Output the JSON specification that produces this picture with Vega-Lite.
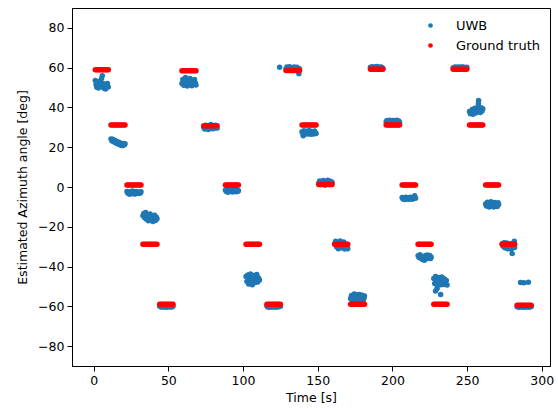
{
  "$schema": "https://vega.github.io/schema/vega-lite/v6.json",
  "autosize": {"type": "none"},
  "width": 478,
  "height": 358,
  "padding": {"left": 72, "top": 8, "right": 8, "bottom": 43},
  "background": "white",
  "config": {
    "font": "DejaVu Sans",
    "view": {"stroke": "#000000", "strokeWidth": 1},
    "axis": {
      "grid": false,
      "domainColor": "#000000",
      "tickColor": "#000000",
      "tickSize": 5,
      "labelColor": "#000000",
      "titleColor": "#000000",
      "labelFontSize": 12.5,
      "titleFontSize": 12.5,
      "titleFontWeight": "normal",
      "labelFont": "DejaVu Sans",
      "titleFont": "DejaVu Sans"
    }
  },
  "datasets": {
    "uwb": [
      {"t":1.1,"v":53.5},{"t":1.6,"v":51.5},{"t":2.1,"v":50.2},{"t":2.6,"v":52.8},{"t":3.1,"v":49.8},{"t":3.6,"v":51.2},{"t":4.2,"v":53.2},{"t":4.7,"v":50.5},{"t":5.3,"v":54.5},{"t":5.8,"v":56},{"t":6.3,"v":52},{"t":6.8,"v":49.6},{"t":7.4,"v":51},{"t":8.0,"v":49.3},{"t":8.6,"v":50.6},{"t":9.2,"v":52},{"t":9.8,"v":50.3},
      {"t":11.6,"v":24.2},{"t":12.2,"v":23.2},{"t":12.8,"v":24},{"t":13.4,"v":22.8},{"t":14.0,"v":23.5},{"t":14.6,"v":22.3},{"t":15.2,"v":23},{"t":15.8,"v":21.8},{"t":16.4,"v":22.6},{"t":17.0,"v":21.5},{"t":17.6,"v":22.2},{"t":18.2,"v":21},{"t":18.8,"v":21.8},{"t":19.4,"v":20.8},{"t":20.0,"v":21.9},{"t":20.6,"v":21.2},{"t":21.0,"v":21.7},
      {"t":22.3,"v":-2.2},{"t":22.9,"v":-3.2},{"t":23.5,"v":-2.6},{"t":24.1,"v":-3.6},{"t":24.7,"v":-2.4},{"t":25.3,"v":-3.1},{"t":25.9,"v":-2.0},{"t":26.5,"v":-3.4},{"t":27.1,"v":-2.7},{"t":27.7,"v":-3.5},{"t":28.3,"v":-2.3},{"t":28.9,"v":-3.0},{"t":29.5,"v":-2.5},{"t":30.1,"v":-3.3},{"t":30.7,"v":-2.6},{"t":31.3,"v":-3.0},{"t":31.7,"v":-2.4},
      {"t":33.0,"v":-14.5},{"t":33.6,"v":-13.3},{"t":34.2,"v":-15.5},{"t":34.8,"v":-12.8},{"t":35.4,"v":-16.2},{"t":36.0,"v":-14},{"t":36.6,"v":-17},{"t":37.2,"v":-15},{"t":37.8,"v":-13.6},{"t":38.4,"v":-16.5},{"t":39.0,"v":-14.8},{"t":39.6,"v":-17.3},{"t":40.2,"v":-15.6},{"t":40.8,"v":-14.2},{"t":41.4,"v":-16.8},{"t":42.0,"v":-15.2},{"t":42.4,"v":-16},
      {"t":44.2,"v":-60},{"t":44.8,"v":-59.6},{"t":45.4,"v":-60.4},{"t":46.0,"v":-59.8},{"t":46.6,"v":-60.2},{"t":47.2,"v":-59.5},{"t":47.8,"v":-60.3},{"t":48.4,"v":-59.9},{"t":49.0,"v":-60.5},{"t":49.6,"v":-59.7},{"t":50.2,"v":-60.1},{"t":50.8,"v":-59.6},{"t":51.4,"v":-60.4},{"t":52.0,"v":-59.8},{"t":52.6,"v":-60.2},{"t":53.1,"v":-59.9},
      {"t":59.1,"v":52},{"t":59.7,"v":54},{"t":60.3,"v":51.2},{"t":60.9,"v":53.2},{"t":61.5,"v":55},{"t":62.1,"v":52.5},{"t":62.7,"v":50.8},{"t":63.3,"v":53.8},{"t":63.9,"v":51.5},{"t":64.5,"v":54.5},{"t":65.1,"v":52.2},{"t":65.7,"v":50.9},{"t":66.3,"v":53.5},{"t":66.9,"v":51.8},{"t":67.5,"v":54},{"t":68.0,"v":52.4},{"t":68.5,"v":51.3},
      {"t":73.7,"v":30},{"t":74.3,"v":29.2},{"t":74.9,"v":31},{"t":75.5,"v":29.8},{"t":76.1,"v":30.6},{"t":76.7,"v":28.9},{"t":77.3,"v":30.3},{"t":77.9,"v":29.5},{"t":78.5,"v":31.4},{"t":79.1,"v":30},{"t":79.7,"v":29.3},{"t":80.3,"v":30.8},{"t":80.9,"v":29.7},{"t":81.5,"v":31},{"t":82.1,"v":30.2},{"t":82.6,"v":29.6},
      {"t":88.2,"v":-1.5},{"t":88.8,"v":-2.3},{"t":89.4,"v":-1.2},{"t":90.0,"v":-2.6},{"t":90.6,"v":-1.8},{"t":91.2,"v":-1},{"t":91.8,"v":-2.2},{"t":92.4,"v":-1.6},{"t":93.0,"v":-2.5},{"t":93.6,"v":-1.3},{"t":94.2,"v":-2},{"t":94.8,"v":-1.7},{"t":95.4,"v":-2.4},{"t":96.0,"v":-1.4},{"t":96.6,"v":-2.1},{"t":96.9,"v":-1.8},
      {"t":102.0,"v":-45},{"t":102.6,"v":-47.5},{"t":103.2,"v":-44.2},{"t":103.8,"v":-48.8},{"t":104.4,"v":-46},{"t":105.0,"v":-43.8},{"t":105.6,"v":-47},{"t":106.2,"v":-49.2},{"t":106.8,"v":-45.5},{"t":107.4,"v":-44.5},{"t":108.0,"v":-48},{"t":108.6,"v":-46.5},{"t":109.2,"v":-44},{"t":109.8,"v":-47.8},{"t":110.4,"v":-45.8},{"t":111.0,"v":-46.8},
      {"t":116.0,"v":-59.8},{"t":116.6,"v":-60.3},{"t":117.2,"v":-59.6},{"t":117.8,"v":-60.5},{"t":118.4,"v":-60},{"t":119.0,"v":-59.7},{"t":119.6,"v":-60.4},{"t":120.2,"v":-59.9},{"t":120.8,"v":-60.2},{"t":121.4,"v":-59.6},{"t":122.0,"v":-60.4},{"t":122.6,"v":-59.8},{"t":123.2,"v":-60.3},{"t":123.8,"v":-59.7},{"t":124.4,"v":-60.1},{"t":125.0,"v":-59.9},
      {"t":124.5,"v":60.2},{"t":128.8,"v":59.5},{"t":129.4,"v":60.3},{"t":130.0,"v":58.8},{"t":130.6,"v":59.9},{"t":131.2,"v":60.5},{"t":131.8,"v":59.2},{"t":132.4,"v":60},{"t":133.0,"v":58.6},{"t":133.6,"v":59.7},{"t":134.2,"v":60.4},{"t":134.8,"v":59},{"t":135.4,"v":59.8},{"t":136.0,"v":60.2},{"t":136.6,"v":58.9},{"t":137.2,"v":59.6},{"t":137.4,"v":57},{"t":137.8,"v":59.3},
      {"t":139.5,"v":27.8},{"t":140.1,"v":26.8},{"t":140.3,"v":25.8},{"t":140.7,"v":28.3},{"t":141.3,"v":27.2},{"t":141.9,"v":26.6},{"t":142.5,"v":28},{"t":143.1,"v":27.4},{"t":143.7,"v":26.7},{"t":144.3,"v":28.4},{"t":144.9,"v":27},{"t":145.5,"v":26.5},{"t":146.1,"v":27.9},{"t":146.7,"v":27.3},{"t":147.3,"v":26.6},{"t":147.9,"v":28.1},{"t":148.5,"v":27.1},{"t":148.9,"v":26.9},
      {"t":150.7,"v":2},{"t":151.3,"v":3},{"t":151.9,"v":1.2},{"t":152.5,"v":2.6},{"t":153.1,"v":1.5},{"t":153.7,"v":3.3},{"t":154.3,"v":2.2},{"t":154.9,"v":1},{"t":155.5,"v":2.8},{"t":156.1,"v":1.6},{"t":156.7,"v":3.4},{"t":157.3,"v":2.1},{"t":157.9,"v":1.3},{"t":158.5,"v":2.9},{"t":159.1,"v":1.8},{"t":159.6,"v":2.4},
      {"t":161.4,"v":-28.5},{"t":162.0,"v":-27.3},{"t":162.6,"v":-30},{"t":163.2,"v":-28},{"t":163.8,"v":-31},{"t":164.4,"v":-29},{"t":165.0,"v":-27.2},{"t":165.6,"v":-30.5},{"t":166.2,"v":-28.6},{"t":166.8,"v":-29.8},{"t":167.4,"v":-27.6},{"t":168.0,"v":-31.2},{"t":168.6,"v":-28.8},{"t":169.2,"v":-30.2},{"t":169.8,"v":-29.2},{"t":170.1,"v":-31},
      {"t":172.0,"v":-56},{"t":172.6,"v":-54.5},{"t":173.2,"v":-57.5},{"t":173.8,"v":-55.2},{"t":174.4,"v":-53.8},{"t":175.0,"v":-56.8},{"t":175.6,"v":-55},{"t":176.2,"v":-54.2},{"t":176.8,"v":-57},{"t":177.4,"v":-55.6},{"t":178.0,"v":-54},{"t":178.6,"v":-56.4},{"t":179.2,"v":-55.1},{"t":179.8,"v":-54.4},{"t":180.4,"v":-57.2},{"t":181.0,"v":-55.8},{"t":181.3,"v":-54.8},
      {"t":185.3,"v":60.2},{"t":185.9,"v":59.7},{"t":186.5,"v":60.5},{"t":187.1,"v":60},{"t":187.7,"v":59.6},{"t":188.3,"v":60.4},{"t":188.9,"v":59.9},{"t":189.5,"v":60.6},{"t":190.1,"v":60.1},{"t":190.7,"v":59.7},{"t":191.3,"v":60.4},{"t":191.9,"v":59.8},{"t":192.5,"v":60.3},{"t":193.1,"v":60},{"t":193.6,"v":59.7},
      {"t":195.8,"v":32.8},{"t":196.4,"v":33.4},{"t":197.0,"v":32.4},{"t":197.6,"v":33.1},{"t":198.2,"v":33.6},{"t":198.8,"v":32.6},{"t":199.4,"v":33.2},{"t":200.0,"v":32.3},{"t":200.6,"v":33.5},{"t":201.2,"v":32.9},{"t":201.8,"v":33.3},{"t":202.4,"v":32.5},{"t":203.0,"v":33.6},{"t":203.6,"v":32.8},{"t":204.2,"v":33.2},{"t":204.8,"v":32.6},
      {"t":206.5,"v":-5.3},{"t":207.1,"v":-6},{"t":207.7,"v":-5.5},{"t":208.3,"v":-6.3},{"t":208.9,"v":-5.1},{"t":209.5,"v":-5.9},{"t":210.1,"v":-5.4},{"t":210.7,"v":-6.2},{"t":211.3,"v":-5.6},{"t":211.9,"v":-5.2},{"t":212.5,"v":-6.1},{"t":213.1,"v":-5.5},{"t":213.7,"v":-6},{"t":214.3,"v":-5.3},{"t":214.9,"v":-4.4},{"t":215.5,"v":-5.6},
      {"t":217.2,"v":-34.5},{"t":217.8,"v":-35.5},{"t":218.4,"v":-34},{"t":219.0,"v":-35.8},{"t":219.6,"v":-34.8},{"t":220.2,"v":-36.5},{"t":220.8,"v":-35.2},{"t":221.4,"v":-36.8},{"t":222.0,"v":-34.6},{"t":222.6,"v":-35.6},{"t":223.2,"v":-34.2},{"t":223.8,"v":-36},{"t":224.4,"v":-35},{"t":225.0,"v":-34.4},{"t":225.6,"v":-35.9},{"t":225.9,"v":-35.2},
      {"t":227.7,"v":-46},{"t":228.3,"v":-48.5},{"t":228.9,"v":-52.3},{"t":228.9,"v":-45},{"t":229.5,"v":-47.2},{"t":229.9,"v":-51},{"t":230.1,"v":-49.5},{"t":230.7,"v":-45.5},{"t":231.3,"v":-48},{"t":231.9,"v":-46.5},{"t":232.3,"v":-54},{"t":232.5,"v":-49.2},{"t":233.1,"v":-45.2},{"t":233.7,"v":-47.5},{"t":234.3,"v":-49},{"t":234.9,"v":-46.2},{"t":235.5,"v":-48.2},{"t":236.1,"v":-47},{"t":236.6,"v":-49.3},
      {"t":240.7,"v":60},{"t":241.3,"v":59.6},{"t":241.9,"v":60.4},{"t":242.5,"v":59.8},{"t":243.1,"v":60.2},{"t":243.7,"v":59.7},{"t":244.3,"v":60.4},{"t":244.9,"v":60},{"t":245.5,"v":59.6},{"t":246.1,"v":60.3},{"t":246.7,"v":59.9},{"t":247.3,"v":60.4},{"t":247.9,"v":59.7},{"t":248.5,"v":60.1},{"t":249.1,"v":59.8},{"t":249.8,"v":60.2},
      {"t":251.6,"v":38},{"t":252.2,"v":36.8},{"t":252.8,"v":37.6},{"t":253.4,"v":39},{"t":254.0,"v":36.6},{"t":254.6,"v":38.5},{"t":255.2,"v":39.6},{"t":255.8,"v":37.2},{"t":256.4,"v":38.8},{"t":257.0,"v":40},{"t":257.6,"v":42},{"t":257.7,"v":43.5},{"t":258.2,"v":39.2},{"t":258.8,"v":37.5},{"t":259.4,"v":39.8},{"t":260.0,"v":38.2},{"t":260.5,"v":39.4},
      {"t":262.4,"v":-8.5},{"t":263.0,"v":-9.6},{"t":263.6,"v":-7.6},{"t":264.2,"v":-9},{"t":264.8,"v":-10},{"t":265.4,"v":-8.2},{"t":266.0,"v":-7.4},{"t":266.6,"v":-9.4},{"t":267.2,"v":-8.7},{"t":267.8,"v":-10},{"t":268.4,"v":-7.8},{"t":269.0,"v":-9.2},{"t":269.6,"v":-8.3},{"t":270.2,"v":-9.8},{"t":270.8,"v":-7.9},{"t":271.1,"v":-8.8},
      {"t":273.5,"v":-28.5},{"t":274.1,"v":-29.8},{"t":274.7,"v":-28},{"t":275.3,"v":-30.6},{"t":275.9,"v":-29},{"t":276.5,"v":-28.2},{"t":277.1,"v":-31},{"t":277.7,"v":-29.4},{"t":278.3,"v":-28.6},{"t":278.9,"v":-30.2},{"t":279.5,"v":-31.3},{"t":280.2,"v":-33.5},{"t":280.5,"v":-29.2},{"t":281.1,"v":-28.3},{"t":281.6,"v":-27.3},{"t":281.8,"v":-30.4},
      {"t":283.5,"v":-60.2},{"t":284.1,"v":-59.7},{"t":284.7,"v":-60.5},{"t":285.3,"v":-60},{"t":285.8,"v":-48},{"t":285.9,"v":-59.6},{"t":286.5,"v":-60.4},{"t":287.1,"v":-59.9},{"t":288.0,"v":-48.1},{"t":287.7,"v":-60.3},{"t":288.3,"v":-59.8},{"t":288.9,"v":-60.5},{"t":289.5,"v":-60},{"t":290.1,"v":-59.7},{"t":291.0,"v":-47.9},{"t":290.7,"v":-60.3},{"t":291.3,"v":-59.9},{"t":291.9,"v":-60.4},{"t":292.5,"v":-59.8},{"t":292.9,"v":-60.1}
    ],
    "gt": [
      {"t":1.1,"v":59},{"t":2.1,"v":59},{"t":3.0,"v":59},{"t":4.0,"v":59},{"t":5.0,"v":59},{"t":5.9,"v":59},{"t":6.9,"v":59},{"t":7.9,"v":59},{"t":8.8,"v":59},{"t":9.8,"v":59},
      {"t":11.6,"v":31.2},{"t":12.6,"v":31.2},{"t":13.7,"v":31.2},{"t":14.7,"v":31.2},{"t":15.8,"v":31.2},{"t":16.8,"v":31.2},{"t":17.9,"v":31.2},{"t":18.9,"v":31.2},{"t":20.0,"v":31.2},{"t":21.0,"v":31.2},
      {"t":22.3,"v":1},{"t":23.3,"v":1},{"t":24.4,"v":1},{"t":25.4,"v":1},{"t":26.5,"v":1},{"t":27.5,"v":1},{"t":28.6,"v":1},{"t":29.6,"v":1},{"t":30.7,"v":1},{"t":31.7,"v":1},
      {"t":33.0,"v":-28.8},{"t":34.0,"v":-28.8},{"t":35.1,"v":-28.8},{"t":36.1,"v":-28.8},{"t":37.2,"v":-28.8},{"t":38.2,"v":-28.8},{"t":39.3,"v":-28.8},{"t":40.3,"v":-28.8},{"t":41.4,"v":-28.8},{"t":42.4,"v":-28.8},
      {"t":44.2,"v":-58.9},{"t":45.2,"v":-58.9},{"t":46.2,"v":-58.9},{"t":47.2,"v":-58.9},{"t":48.2,"v":-58.9},{"t":49.1,"v":-58.9},{"t":50.1,"v":-58.9},{"t":51.1,"v":-58.9},{"t":52.1,"v":-58.9},{"t":53.1,"v":-58.9},
      {"t":59.1,"v":58.5},{"t":60.1,"v":58.5},{"t":61.2,"v":58.5},{"t":62.2,"v":58.5},{"t":63.3,"v":58.5},{"t":64.3,"v":58.5},{"t":65.4,"v":58.5},{"t":66.4,"v":58.5},{"t":67.5,"v":58.5},{"t":68.5,"v":58.5},
      {"t":73.7,"v":30.8},{"t":74.7,"v":30.8},{"t":75.7,"v":30.8},{"t":76.7,"v":30.8},{"t":77.7,"v":30.8},{"t":78.6,"v":30.8},{"t":79.6,"v":30.8},{"t":80.6,"v":30.8},{"t":81.6,"v":30.8},{"t":82.6,"v":30.8},
      {"t":88.2,"v":1},{"t":89.2,"v":1},{"t":90.1,"v":1},{"t":91.1,"v":1},{"t":92.1,"v":1},{"t":93.0,"v":1},{"t":94.0,"v":1},{"t":95.0,"v":1},{"t":95.9,"v":1},{"t":96.9,"v":1},
      {"t":102,"v":-28.8},{"t":103,"v":-28.8},{"t":104,"v":-28.8},{"t":105,"v":-28.8},{"t":106,"v":-28.8},{"t":107,"v":-28.8},{"t":108,"v":-28.8},{"t":109,"v":-28.8},{"t":110,"v":-28.8},{"t":111,"v":-28.8},
      {"t":116,"v":-58.9},{"t":117,"v":-58.9},{"t":118,"v":-58.9},{"t":119,"v":-58.9},{"t":120,"v":-58.9},{"t":121,"v":-58.9},{"t":122,"v":-58.9},{"t":123,"v":-58.9},{"t":124,"v":-58.9},{"t":125,"v":-58.9},
      {"t":128.8,"v":58.6},{"t":129.8,"v":58.6},{"t":130.8,"v":58.6},{"t":131.8,"v":58.6},{"t":132.8,"v":58.6},{"t":133.8,"v":58.6},{"t":134.8,"v":58.6},{"t":135.8,"v":58.6},{"t":136.8,"v":58.6},{"t":137.8,"v":58.6},
      {"t":139.5,"v":31.2},{"t":140.5,"v":31.2},{"t":141.6,"v":31.2},{"t":142.6,"v":31.2},{"t":143.7,"v":31.2},{"t":144.7,"v":31.2},{"t":145.8,"v":31.2},{"t":146.8,"v":31.2},{"t":147.9,"v":31.2},{"t":148.9,"v":31.2},
      {"t":150.7,"v":1.2},{"t":151.7,"v":1.2},{"t":152.7,"v":1.2},{"t":153.7,"v":1.2},{"t":154.7,"v":1.2},{"t":155.6,"v":1.2},{"t":156.6,"v":1.2},{"t":157.6,"v":1.2},{"t":158.6,"v":1.2},{"t":159.6,"v":1.2},
      {"t":161.4,"v":-28.8},{"t":162.4,"v":-28.8},{"t":163.3,"v":-28.8},{"t":164.3,"v":-28.8},{"t":165.2,"v":-28.8},{"t":166.2,"v":-28.8},{"t":167.2,"v":-28.8},{"t":168.1,"v":-28.8},{"t":169.1,"v":-28.8},{"t":170.1,"v":-28.8},
      {"t":172.0,"v":-58.9},{"t":173.0,"v":-58.9},{"t":174.1,"v":-58.9},{"t":175.1,"v":-58.9},{"t":176.1,"v":-58.9},{"t":177.2,"v":-58.9},{"t":178.2,"v":-58.9},{"t":179.2,"v":-58.9},{"t":180.3,"v":-58.9},{"t":181.3,"v":-58.9},
      {"t":185.3,"v":59.2},{"t":186.2,"v":59.2},{"t":187.1,"v":59.2},{"t":188.1,"v":59.2},{"t":189.0,"v":59.2},{"t":189.9,"v":59.2},{"t":190.8,"v":59.2},{"t":191.7,"v":59.2},{"t":192.7,"v":59.2},{"t":193.6,"v":59.2},
      {"t":195.8,"v":31.2},{"t":196.8,"v":31.2},{"t":197.8,"v":31.2},{"t":198.8,"v":31.2},{"t":199.8,"v":31.2},{"t":200.8,"v":31.2},{"t":201.8,"v":31.2},{"t":202.8,"v":31.2},{"t":203.8,"v":31.2},{"t":204.8,"v":31.2},
      {"t":206.5,"v":1},{"t":207.5,"v":1},{"t":208.5,"v":1},{"t":209.5,"v":1},{"t":210.5,"v":1},{"t":211.5,"v":1},{"t":212.5,"v":1},{"t":213.5,"v":1},{"t":214.5,"v":1},{"t":215.5,"v":1},
      {"t":217.2,"v":-28.8},{"t":218.2,"v":-28.8},{"t":219.1,"v":-28.8},{"t":220.1,"v":-28.8},{"t":221.1,"v":-28.8},{"t":222.0,"v":-28.8},{"t":223.0,"v":-28.8},{"t":224.0,"v":-28.8},{"t":224.9,"v":-28.8},{"t":225.9,"v":-28.8},
      {"t":227.7,"v":-58.9},{"t":228.7,"v":-58.9},{"t":229.7,"v":-58.9},{"t":230.7,"v":-58.9},{"t":231.7,"v":-58.9},{"t":232.6,"v":-58.9},{"t":233.6,"v":-58.9},{"t":234.6,"v":-58.9},{"t":235.6,"v":-58.9},{"t":236.6,"v":-58.9},
      {"t":240.7,"v":59.2},{"t":241.7,"v":59.2},{"t":242.7,"v":59.2},{"t":243.7,"v":59.2},{"t":244.7,"v":59.2},{"t":245.8,"v":59.2},{"t":246.8,"v":59.2},{"t":247.8,"v":59.2},{"t":248.8,"v":59.2},{"t":249.8,"v":59.2},
      {"t":251.6,"v":31.2},{"t":252.6,"v":31.2},{"t":253.6,"v":31.2},{"t":254.6,"v":31.2},{"t":255.6,"v":31.2},{"t":256.5,"v":31.2},{"t":257.5,"v":31.2},{"t":258.5,"v":31.2},{"t":259.5,"v":31.2},{"t":260.5,"v":31.2},
      {"t":262.4,"v":1},{"t":263.4,"v":1},{"t":264.3,"v":1},{"t":265.3,"v":1},{"t":266.2,"v":1},{"t":267.2,"v":1},{"t":268.2,"v":1},{"t":269.1,"v":1},{"t":270.1,"v":1},{"t":271.1,"v":1},
      {"t":273.5,"v":-28.8},{"t":274.4,"v":-28.8},{"t":275.3,"v":-28.8},{"t":276.3,"v":-28.8},{"t":277.2,"v":-28.8},{"t":278.1,"v":-28.8},{"t":279.0,"v":-28.8},{"t":280.0,"v":-28.8},{"t":280.9,"v":-28.8},{"t":281.8,"v":-28.8},
      {"t":283.5,"v":-59.4},{"t":284.5,"v":-59.4},{"t":285.6,"v":-59.4},{"t":286.6,"v":-59.4},{"t":287.7,"v":-59.4},{"t":288.7,"v":-59.4},{"t":289.8,"v":-59.4},{"t":290.8,"v":-59.4},{"t":291.9,"v":-59.4},{"t":292.9,"v":-59.4}
    ]
  },
  "layer": [
    {
      "data": {"name": "uwb"},
      "mark": {"type": "circle", "size": 30, "opacity": 1},
      "encoding": {
        "x": {"field": "t", "type": "quantitative", "scale": {"domain": [-14.5, 305.5], "nice": false, "zero": false}, "axis": {"title": "Time [s]", "values": [0, 50, 100, 150, 200, 250, 300], "titlePadding": 5, "labelPadding": 3}},
        "y": {"field": "v", "type": "quantitative", "scale": {"domain": [-90, 90], "nice": false, "zero": false}, "axis": {"title": "Estimated Azimuth angle [deg]", "values": [-80, -60, -40, -20, 0, 20, 40, 60, 80], "titlePadding": 8, "labelPadding": 3}},
        "color": {"datum": "UWB", "type": "nominal", "scale": {"domain": ["UWB", "Ground truth"], "range": ["#1f77b4", "#ff0000"]}, "legend": {"title": null, "orient": "none", "legendX": 352, "legendY": 11, "padding": 0, "labelFontSize": 13, "labelColor": "#000000", "labelFont": "DejaVu Sans", "symbolType": "circle", "symbolSize": 22, "labelOffset": 19, "rowPadding": 6, "symbolStrokeWidth": 0}}
      }
    },
    {
      "data": {"name": "gt"},
      "mark": {"type": "circle", "size": 30, "opacity": 1},
      "encoding": {
        "x": {"field": "t", "type": "quantitative"},
        "y": {"field": "v", "type": "quantitative"},
        "color": {"datum": "Ground truth", "type": "nominal"}
      }
    }
  ]
}
